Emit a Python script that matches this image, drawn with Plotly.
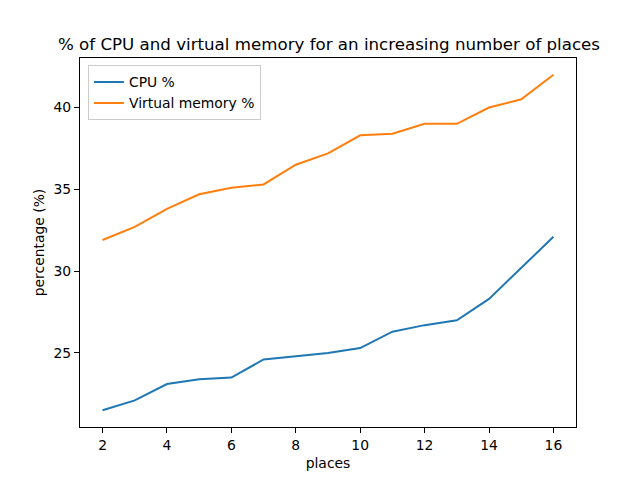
import plotly.graph_objects as go

places = [2, 3, 4, 5, 6, 7, 8, 9, 10, 11, 12, 13, 14, 15, 16]
cpu = [21.5, 22.1, 23.1, 23.4, 23.5, 24.6, 24.8, 25.0, 25.3, 26.3, 26.7, 27.0, 28.3, 30.2, 32.1]
vmem = [31.9, 32.7, 33.8, 34.7, 35.1, 35.3, 36.5, 37.2, 38.3, 38.4, 39.0, 39.0, 40.0, 40.5, 42.0]
x_ticks = [2, 4, 6, 8, 10, 12, 14, 16]
y_ticks = [25, 30, 35, 40]

fig = go.Figure()
fig.add_trace(go.Scatter(x=places, y=cpu, mode="lines", name="CPU %",
                         line=dict(color="#1f77b4", width=2)))
fig.add_trace(go.Scatter(x=places, y=vmem, mode="lines", name="Virtual memory %",
                         line=dict(color="#ff7f0e", width=2)))

font = "DejaVu Sans"
fs = 13.9
axis_common = dict(showline=True, mirror=True, linecolor="black", linewidth=1,
                   ticks="outside", ticklen=5, tickwidth=1, tickcolor="black",
                   showgrid=False, zeroline=False,
                   tickfont=dict(family=font, size=fs, color="black"))
# page body has an 8px margin, so figure coords are offset by 8px
fig.update_layout(
    width=640, height=480,
    margin=dict(l=72, r=72, t=50, b=61),
    paper_bgcolor="white", plot_bgcolor="white",
    font=dict(family=font, color="black"),
    title=dict(text="% of CPU and virtual memory for an increasing number of places",
               x=(329 - 8) / 640, xanchor="center", y=1 - 36 / 480, yanchor="middle",
               font=dict(family=font, size=16.67, color="black")),
    xaxis=dict(range=[1.3, 16.7], tickvals=x_ticks,
               title=dict(text="places", font=dict(family=font, size=fs), standoff=6),
               **axis_common),
    yaxis=dict(range=[20.475, 43.025], tickvals=y_ticks,
               title=dict(text="percentage (%)", font=dict(family=font, size=fs), standoff=5),
               **axis_common),
    legend=dict(x=0.016, y=0.98, xanchor="left", yanchor="top",
                bgcolor="rgba(255,255,255,0.8)", bordercolor="#cccccc", borderwidth=1,
                font=dict(family=font, size=fs, color="black"),
                tracegroupgap=0),
    showlegend=True,
)

fig.write_html("out.html")
